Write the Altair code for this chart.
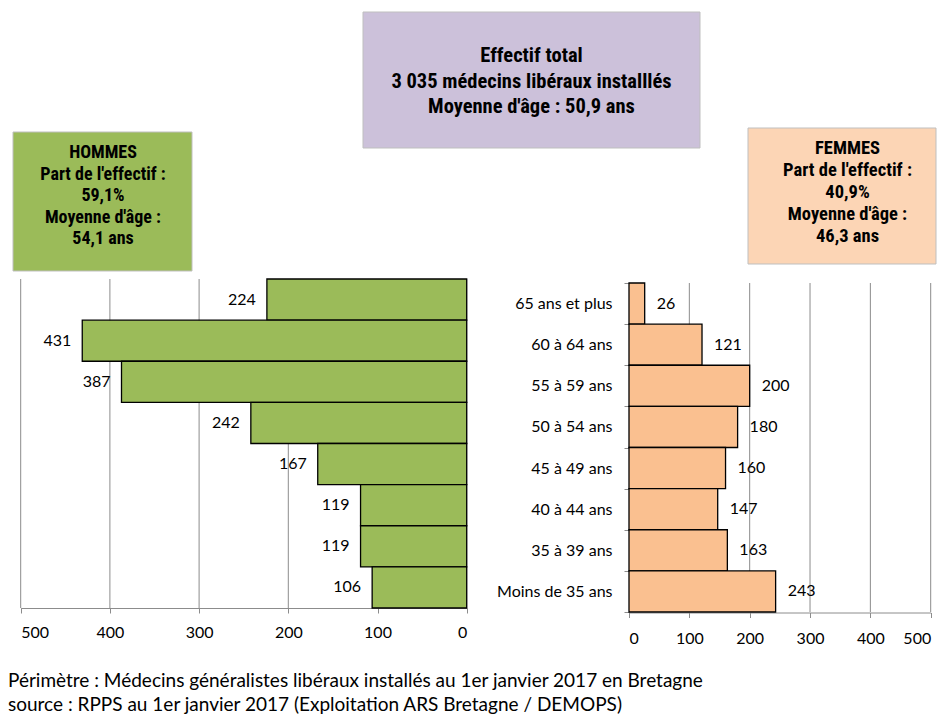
import altair as alt
import pandas as pd

ages = ["65 ans et plus", "60 à 64 ans", "55 à 59 ans", "50 à 54 ans",
        "45 à 49 ans", "40 à 44 ans", "35 à 39 ans", "Moins de 35 ans"]
hommes = [224, 431, 387, 242, 167, 119, 119, 106]
femmes = [26, 121, 200, 180, 160, 147, 163, 243]
ticks = [0, 100, 200, 300, 400, 500]

titre_total = ["Effectif total", "3 035 médecins libéraux installlés", "Moyenne d'âge : 50,9 ans"]
titre_hommes = ["HOMMES", "Part de l'effectif :", "59,1%", "Moyenne d'âge :", "54,1 ans"]
titre_femmes = ["FEMMES", "Part de l'effectif :", "40,9%", "Moyenne d'âge :", "46,3 ans"]
footer = ["Périmètre : Médecins généralistes libéraux installés au 1er janvier 2017 en Bretagne",
          "source : RPPS au 1er janvier 2017 (Exploitation ARS Bretagne / DEMOPS)"]

W, H = 929, 709
LABEL_FONT = "Lato"
LFS = 16
BOX_FONT = "Liberation Sans Narrow, Arial Narrow, Roboto Condensed, Liberation Sans, sans-serif"
GRID = "#8c8c8c"

men_df = pd.DataFrame({"age": ages, "n": hommes})
women_df = pd.DataFrame({"age": ages, "n": femmes})
tick_df = pd.DataFrame({"t": ticks})
one = pd.DataFrame({"a": [0]})

# ---- men panel
mx = alt.Scale(domain=[0, 500], range=[458.7, 12.7])
my = alt.Scale(domain=ages, range=[271, 600], paddingInner=0, paddingOuter=0)
men_grid = alt.Chart(tick_df).mark_rule(color=GRID, strokeWidth=1).encode(
    x=alt.X("t:Q", scale=mx,
            axis=alt.Axis(orient="bottom", values=ticks, grid=False, offset=-(H - 600),
                          tickSize=5, tickColor=GRID, domainColor=GRID,
                          labelFont=LABEL_FONT, labelFontSize=LFS, labelColor="#000",
                          labelPadding=11, title=None)),
    y=alt.value(271), y2=alt.value(600))
men_bars = alt.Chart(men_df).mark_bar(color="#9BBB59", stroke="#000", strokeWidth=1.3).encode(
    x=alt.X("n:Q", scale=mx), x2=alt.datum(0),
    y=alt.Y("age:N", scale=my, axis=None, sort=ages))
men_text = alt.Chart(men_df).mark_text(align="right", baseline="middle", dx=-11,
                                       font=LABEL_FONT, fontSize=LFS, color="#000").encode(
    x=alt.X("n:Q", scale=mx), y=alt.Y("age:N", scale=my, sort=ages), text="n:Q")
men = alt.layer(men_grid, men_bars, men_text)

# ---- women panel
wx = alt.Scale(domain=[0, 500], range=[621, 922.7])
wy = alt.Scale(domain=ages, range=[275, 604], paddingInner=0, paddingOuter=0)
w_grid = alt.Chart(tick_df).transform_filter("datum.t > 0").mark_rule(color=GRID, strokeWidth=1).encode(
    x=alt.X("t:Q", scale=wx,
            axis=alt.Axis(orient="bottom", values=ticks, grid=False, offset=-(H - 604.5),
                          tickSize=5, tickColor=GRID, domainColor=GRID,
                          labelFont=LABEL_FONT, labelFontSize=LFS, labelColor="#000",
                          labelPadding=13, title=None)),
    y=alt.value(275), y2=alt.value(604))
w_bars = alt.Chart(women_df).mark_bar(color="#FAC090", stroke="#000", strokeWidth=1.3).encode(
    x=alt.X("n:Q", scale=wx), x2=alt.datum(0),
    y=alt.Y("age:N", scale=wy, sort=ages,
            axis=alt.Axis(orient="left", offset=-621, tickBand="extent", tickSize=5,
                          tickColor=GRID, domainColor=GRID, labelFont=LABEL_FONT,
                          labelFontSize=LFS, labelColor="#000", labelPadding=12,
                          title=None, grid=False)))
w_text = alt.Chart(women_df).mark_text(align="left", baseline="middle", dx=12,
                                       font=LABEL_FONT, fontSize=LFS, color="#000").encode(
    x=alt.X("n:Q", scale=wx), y=alt.Y("age:N", scale=wy, sort=ages), text="n:Q")
women = alt.layer(w_grid, w_bars, w_text)

# ---- boxes
def box(x1, x2, y1, y2, fill, lines, cx, cy, lh, fs):
    r = alt.Chart(one).mark_rect(fill=fill, stroke="#bfbfbf", strokeWidth=1).encode(
        x=alt.value(x1), x2=alt.value(x2), y=alt.value(y1), y2=alt.value(y2))
    t = alt.Chart(one).mark_text(align="center", baseline="middle", font=BOX_FONT,
                                 fontWeight="bold", fontSize=fs, lineHeight=lh,
                                 color="#000").encode(
        x=alt.value(cx), y=alt.value(cy), text=alt.value(lines))
    return r, t

b1 = box(355, 692, 4, 140, "#CCC1DA", titre_total, 523.5, 48, 25.5, 20.5)
b2 = box(5, 184, 124, 263, "#9BBB59", titre_hommes, 95, 145, 21.5, 18)
b3 = box(740, 928, 120, 256, "#FCD5B5", titre_femmes, 839.5, 140, 22, 18.5)

foot = alt.Chart(one).mark_text(align="left", baseline="middle", font=LABEL_FONT,
                                fontSize=19, lineHeight=24, color="#000").encode(
    x=alt.value(0), y=alt.value(673), text=alt.value(footer))

chart = alt.layer(*b1, *b2, *b3, foot, men, women).resolve_scale(
    x="independent", y="independent").resolve_axis(x="independent", y="independent").properties(
    width=W, height=H, autosize=alt.AutoSizeParams(type="none"), padding=0
).configure_view(stroke=None)

chart.save("out.html", embed_options={"renderer": "svg", "actions": False})
